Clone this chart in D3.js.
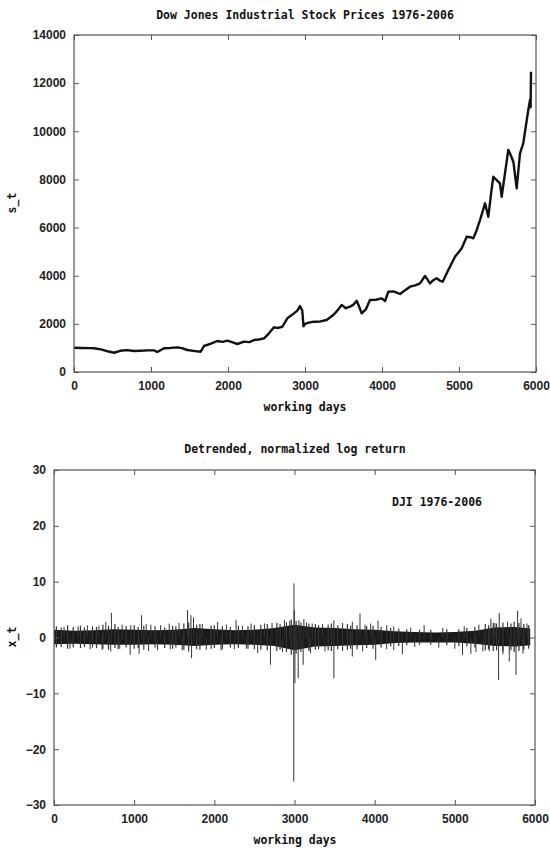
<!DOCTYPE html>
<html>
<head>
<meta charset="utf-8">
<script src="https://cdn.jsdelivr.net/npm/d3@7"></script>
<style>
  body { margin: 0; background: #fff; overflow: hidden; }
  .tick text { font-family: "Liberation Sans", Arial, sans-serif; font-weight: bold; font-size: 12px; fill: #222; }
  .tick line { stroke: #555; }
  .lbl { font-family: "DejaVu Sans Mono", monospace; font-weight: bold; font-size: 11.5px; fill: #111; }
</style>
</head>
<body>
<div id="vis"></div>
<script>
// price series (working day, index value)
var priceDays = [0, 100, 200, 260, 350, 450, 520, 600, 690, 780, 866, 950, 1039, 1082, 1169, 1250, 1342, 1400, 1472, 1550,
    1645, 1688, 1780, 1861, 1930, 1991, 2060, 2121, 2208, 2280, 2338, 2400, 2468, 2532, 2597, 2650, 2706, 2771, 2857, 2900,
    2935, 2965, 2980, 3000, 3050, 3117, 3200, 3281, 3368, 3420, 3476, 3530, 3584, 3630, 3671, 3705, 3736, 3790, 3844, 3920,
    3996, 4040, 4082, 4150, 4234, 4300, 4364, 4430, 4494, 4558, 4600, 4623, 4660, 4710, 4750, 4788, 4861, 4948, 5000, 5035,
    5100, 5150, 5186, 5230, 5273, 5310, 5338, 5381, 5420, 5446, 5480, 5532, 5554, 5597, 5640, 5662, 5706, 5749, 5792, 5835,
    5857, 5900, 5922, 5930, 5935];
var priceValues = [1010, 1000, 990, 985, 940, 850, 800, 880, 910, 870, 885, 900, 900, 830, 985, 1000, 1025, 990, 914, 880,
    844, 1080, 1180, 1288, 1250, 1300, 1230, 1163, 1260, 1240, 1330, 1350, 1400, 1607, 1856, 1830, 1880, 2230, 2437, 2550,
    2740, 2545, 1900, 2000, 2050, 2090, 2100, 2160, 2368, 2550, 2783, 2650, 2712, 2800, 2963, 2700, 2437, 2600, 2990, 3000,
    3060, 2950, 3336, 3350, 3240, 3400, 3545, 3600, 3685, 3988, 3800, 3685, 3800, 3892, 3800, 3753, 4237, 4790, 5000, 5138,
    5620, 5600, 5553, 5900, 6314, 6700, 7007, 6451, 7500, 8113, 8000, 7837, 7282, 8254, 9222, 9085, 8736, 7630, 9085, 9500,
    9980, 10883, 11300, 11000, 12475];

// dense core of the return series (upper / lower edge of the black band)
var bandDays = [0, 250, 500, 750, 1000, 1250, 1500, 1750, 2000, 2250, 2500, 2750, 3000, 3250, 3500, 3750, 4000, 4250,
    4500, 4750, 5000, 5250, 5500, 5750, 5940];
var bandHi = [1.4, 1.2, 1.3, 1.5, 1.4, 1.3, 1.4, 1.7, 1.5, 1.3, 1.4, 1.7, 2.3, 1.8, 1.7, 1.5, 1.4, 1.1, 1.0, 0.9, 1.0,
    1.2, 1.8, 1.9, 1.6];
var bandLo = [-1.2, -1.1, -1.2, -1.3, -1.3, -1.2, -1.3, -1.5, -1.3, -1.2, -1.3, -1.5, -2.3, -1.6, -1.5, -1.4, -1.3, -1.0,
    -0.9, -0.9, -0.9, -1.1, -1.5, -1.6, -1.4];

// single large returns sticking out of the band
var spikeDays = [125, 416, 646, 716, 958, 1092, 1208, 1437, 1666, 1708, 1740, 2041, 2271, 2458, 2625, 2875, 2993, 2998,
    3054, 3117, 3221, 3491, 3721, 3817, 3950, 4042, 4238, 4617, 5117, 5450, 5554, 5658, 5783, 5825,
    300, 560, 850, 1150, 1330, 1560, 1850, 2150, 2350, 2720, 2940, 3150, 3350, 3600, 3880, 4150, 4450, 4850, 5300, 5500, 5900,
    708, 950, 1062, 1292, 1716, 2083, 2541, 2700, 2991, 3005, 3046, 3108, 3491, 3721, 4013, 4238, 4346, 5096, 5200, 5263,
    5430, 5546, 5679, 5763,
    200, 450, 600, 820, 1180, 1450, 1600, 1900, 2250, 2400, 2850, 3200, 3380, 3600, 3850, 4150, 4500, 4800, 5000, 5350, 5600, 5850];
var spikeValues = [1.9, 2.2, 2.8, 4.4, 2.2, 4.0, 2.3, 2.5, 4.9, 4.0, 3.6, 2.8, 3.1, 2.5, 2.5, 3.1, 9.7, 4.9,
    3.1, 3.3, 2.5, 3.1, 2.8, 4.3, 2.5, 3.0, 2.0, 2.2, 2.0, 3.4, 4.4, 2.8, 4.8, 3.4,
    2.0, 2.1, 2.3, 2.4, 2.2, 2.6, 2.4, 2.3, 2.1, 2.6, 3.0, 2.7, 2.4, 2.6, 2.3, 2.2, 1.8, 1.7, 2.3, 2.6, 2.5,
    -2.5, -3.1, -2.9, -2.3, -3.7, -2.3, -2.8, -4.9, -25.8, -8.2, -7.3, -4.9, -7.3, -3.4, -4.0, -2.3, -3.0, -3.1, -2.9, -2.6,
    -2.4, -7.6, -4.3, -6.7,
    -2.0, -2.1, -2.2, -2.0, -2.4, -2.1, -2.3, -2.2, -2.1, -2.0, -2.6, -2.8, -2.5, -2.4, -2.5, -2.1, -1.7, -1.8, -2.0, -2.5, -3.0, -2.9];

// smaller returns that make the ragged edge of the band
var fringeDays = [30, 90, 170, 240, 330, 380, 480, 530, 610, 680, 760, 800, 900, 1000, 1050, 1120, 1260, 1380, 1480, 1520,
    1620, 1680, 1780, 1820, 1960, 2000, 2100, 2200, 2300, 2420, 2500, 2580, 2660, 2780, 2820, 2900, 2960, 3020, 3080, 3180,
    3260, 3300, 3420, 3460, 3540, 3660, 3700, 3780, 3900, 3980, 4080, 4200, 4300, 4400, 4560, 4700, 4900, 5050, 5150, 5250,
    5380, 5420, 5480, 5520, 5600, 5700, 5740, 5800, 5860, 5920];
var fringeUp = [2.0, 1.8, 2.2, 1.9, 2.1, 1.8, 2.0, 1.9, 2.3, 2.1, 2.4, 1.9, 2.0, 2.2, 1.9, 2.1, 2.0, 1.8, 2.1, 2.0,
    2.5, 2.7, 2.3, 2.4, 2.1, 2.2, 2.0, 1.9, 2.1, 2.0, 2.2, 2.3, 2.4, 2.6, 2.4, 2.7, 3.2, 3.0, 2.7, 2.5,
    2.4, 2.2, 2.3, 2.5, 2.2, 2.4, 2.1, 2.2, 2.0, 2.1, 1.9, 1.7, 1.6, 1.5, 1.4, 1.4, 1.5, 1.5, 1.7, 1.9,
    2.4, 2.2, 2.6, 2.5, 2.7, 2.5, 2.8, 2.6, 2.4, 2.2];
var fringeDown = [-1.8, -1.7, -2.0, -1.8, -1.9, -1.7, -1.8, -1.9, -2.0, -2.2, -1.9, -2.1, -1.8, -2.0, -1.9, -2.2, -1.8, -1.9, -2.0, -1.8,
    -2.2, -2.5, -2.1, -2.2, -2.0, -1.9, -2.1, -1.8, -1.9, -2.0, -2.1, -2.2, -2.3, -2.4, -2.2, -2.6, -3.1, -2.9, -2.6, -2.4,
    -2.2, -2.1, -2.3, -2.4, -2.1, -2.2, -2.0, -2.1, -1.9, -2.0, -1.8, -1.6, -1.5, -1.4, -1.3, -1.3, -1.4, -1.5, -1.6, -1.8,
    -2.3, -2.1, -2.4, -2.3, -2.5, -2.3, -2.6, -2.4, -2.2, -2.0];

var xTicks = [0, 1000, 2000, 3000, 4000, 5000, 6000];
var priceTicks = [0, 2000, 4000, 6000, 8000, 10000, 12000, 14000];
var returnTicks = [-30, -20, -10, 0, 10, 20, 30];

var width = 550,
    height = 848;

var svg = d3.select("#vis").append("svg")
    .attr("width", width)
    .attr("height", height);

// draws the gnuplot style box: ticks inside on all four sides
function drawFrame(x, y, yTicks) {
    var x0 = x.range()[0], x1 = x.range()[1],
        y0 = y.range()[0], y1 = y.range()[1];

    svg.append("g")
        .attr("class", "x axis")
        .attr("transform", "translate(0," + y0 + ")")
        .call(d3.axisBottom(x).tickValues(xTicks).tickSize(-5).tickPadding(9).tickFormat(d3.format("d")))
        .call(function (g) { g.select(".domain").remove(); });

    svg.append("g")
        .attr("transform", "translate(0," + y1 + ")")
        .call(d3.axisTop(x).tickValues(xTicks).tickSize(-5).tickFormat(""))
        .call(function (g) { g.select(".domain").remove(); });

    svg.append("g")
        .attr("class", "y axis")
        .attr("transform", "translate(" + x0 + ",0)")
        .call(d3.axisLeft(y).tickValues(yTicks).tickSize(-5).tickPadding(8).tickFormat(d3.format("d")))
        .call(function (g) { g.select(".domain").remove(); });

    svg.append("g")
        .attr("transform", "translate(" + x1 + ",0)")
        .call(d3.axisRight(y).tickValues(yTicks).tickSize(-5).tickFormat(""))
        .call(function (g) { g.select(".domain").remove(); });

    svg.append("rect")
        .attr("x", x0)
        .attr("y", y1)
        .attr("width", x1 - x0)
        .attr("height", y0 - y1)
        .attr("fill", "none")
        .attr("stroke", "#555")
        .attr("stroke-width", 1.2);
}

// ---- top panel: prices
var xTop = d3.scaleLinear().domain([0, 6000]).range([74, 536]);
var yTop = d3.scaleLinear().domain([0, 14000]).range([372, 35]);

var priceLine = d3.line()
    .x(function (d, i) { return xTop(priceDays[i]); })
    .y(function (d) { return yTop(d); });

svg.append("path")
    .datum(priceValues)
    .attr("d", priceLine)
    .attr("fill", "none")
    .attr("stroke", "#111")
    .attr("stroke-width", 2.4)
    .attr("stroke-linejoin", "round");

drawFrame(xTop, yTop, priceTicks);

svg.append("text").attr("class", "lbl")
    .attr("x", 305).attr("y", 19)
    .style("text-anchor", "middle")
    .text("Dow Jones Industrial Stock Prices 1976-2006");

svg.append("text").attr("class", "lbl")
    .attr("x", 305).attr("y", 411)
    .style("text-anchor", "middle")
    .text("working days");

svg.append("text").attr("class", "lbl")
    .attr("transform", "translate(16,203) rotate(-90)")
    .style("text-anchor", "middle")
    .text("s_t");

// ---- bottom panel: detrended log returns
var xBot = d3.scaleLinear().domain([0, 6000]).range([54, 535]);
var yBot = d3.scaleLinear().domain([-30, 30]).range([805, 470]);

var band = d3.area()
    .x(function (d, i) { return xBot(bandDays[i]); })
    .y0(function (d, i) { return yBot(bandLo[i]); })
    .y1(function (d) { return yBot(d); });

svg.append("path")
    .datum(bandHi)
    .attr("d", band)
    .attr("fill", "#1a1a1a");

svg.selectAll("line.fringe")
    .data(fringeDays)
    .enter().append("line")
    .attr("class", "fringe")
    .attr("x1", function (d) { return xBot(d); })
    .attr("x2", function (d) { return xBot(d); })
    .attr("y1", function (d, i) { return yBot(fringeDown[i]); })
    .attr("y2", function (d, i) { return yBot(fringeUp[i]); })
    .attr("stroke", "#333")
    .attr("stroke-width", 1.2);

svg.selectAll("line.spike")
    .data(spikeValues)
    .enter().append("line")
    .attr("class", "spike")
    .attr("x1", function (d, i) { return xBot(spikeDays[i]); })
    .attr("x2", function (d, i) { return xBot(spikeDays[i]); })
    .attr("y1", yBot(0))
    .attr("y2", function (d) { return yBot(d); })
    .attr("stroke", "#333")
    .attr("stroke-width", 1);

drawFrame(xBot, yBot, returnTicks);

svg.append("text").attr("class", "lbl")
    .attr("x", 295).attr("y", 453)
    .style("text-anchor", "middle")
    .text("Detrended, normalized log return");

svg.append("text").attr("class", "lbl")
    .attr("x", 482).attr("y", 506)
    .style("text-anchor", "end")
    .text("DJI 1976-2006");

svg.append("text").attr("class", "lbl")
    .attr("x", 295).attr("y", 844)
    .style("text-anchor", "middle")
    .text("working days");

svg.append("text").attr("class", "lbl")
    .attr("transform", "translate(16,637) rotate(-90)")
    .style("text-anchor", "middle")
    .text("x_t");
</script>
</body>
</html>
